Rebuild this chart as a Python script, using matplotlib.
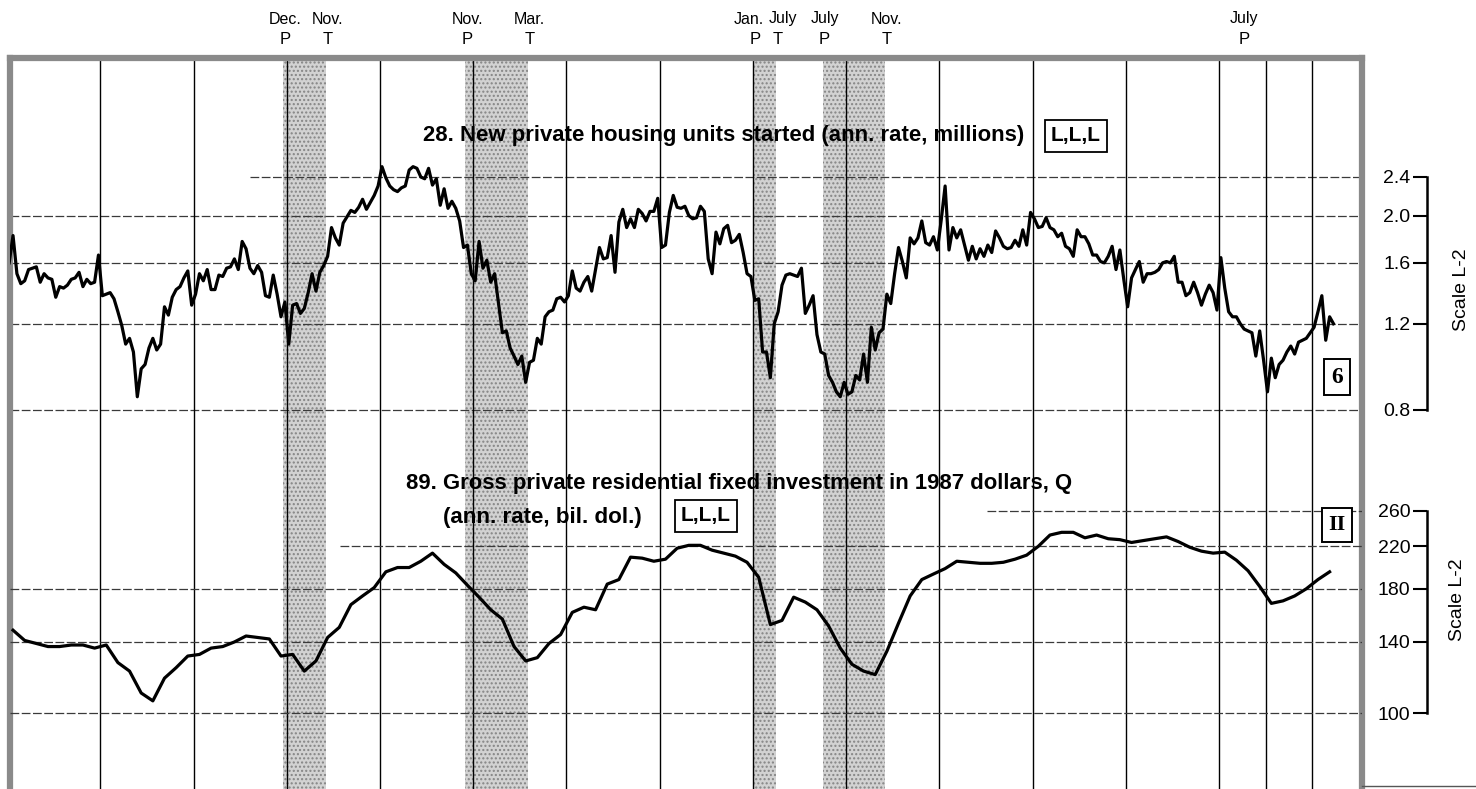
import numpy as np
import matplotlib.pyplot as plt
from matplotlib.lines import Line2D
from matplotlib.ticker import NullLocator
import matplotlib.transforms as mtransforms

W, H = 1476, 789
NARROW = ['Liberation Sans Narrow', 'Liberation Sans', 'DejaVu Sans']
SERIF = ['Liberation Serif', 'DejaVu Serif']
plt.rcParams['font.family'] = NARROW

# 28. housing starts, monthly, ann. rate, millions (Jan 1964 - Jun 1992)
starts_first_year = 1964
housing_starts = [
    1.60, 1.82, 1.52, 1.45, 1.47, 1.55, 1.56, 1.57, 1.46, 1.52, 1.49, 1.48,  # 1964
    1.36, 1.43, 1.42, 1.44, 1.48, 1.49, 1.53, 1.43, 1.48, 1.45, 1.46, 1.66,  # 1965
    1.37, 1.38, 1.39, 1.35, 1.27, 1.19, 1.09, 1.12, 1.05, 0.85, 0.97, 0.99,  # 1966
    1.07, 1.12, 1.06, 1.09, 1.30, 1.25, 1.36, 1.41, 1.43, 1.49, 1.54, 1.31,  # 1967
    1.38, 1.52, 1.47, 1.55, 1.41, 1.41, 1.51, 1.50, 1.56, 1.57, 1.63, 1.55,  # 1968
    1.77, 1.71, 1.56, 1.52, 1.58, 1.53, 1.37, 1.36, 1.51, 1.38, 1.24, 1.33,  # 1969
    1.09, 1.31, 1.32, 1.26, 1.29, 1.39, 1.52, 1.40, 1.53, 1.58, 1.65, 1.89,  # 1970
    1.80, 1.74, 1.93, 1.99, 2.05, 2.03, 2.08, 2.16, 2.06, 2.13, 2.20, 2.30,  # 1971
    2.52, 2.39, 2.30, 2.26, 2.24, 2.28, 2.30, 2.48, 2.52, 2.50, 2.40, 2.38,  # 1972
    2.50, 2.31, 2.38, 2.10, 2.27, 2.07, 2.14, 2.07, 1.95, 1.72, 1.74, 1.52,  # 1973
    1.47, 1.77, 1.56, 1.62, 1.46, 1.52, 1.32, 1.15, 1.16, 1.07, 1.03, 0.99,  # 1974
    1.03, 0.91, 1.00, 1.01, 1.12, 1.09, 1.24, 1.27, 1.28, 1.35, 1.36, 1.33,  # 1975
    1.37, 1.54, 1.42, 1.40, 1.46, 1.50, 1.40, 1.55, 1.72, 1.63, 1.64, 1.82,  # 1976
    1.53, 1.94, 2.06, 1.89, 1.97, 1.89, 2.06, 2.02, 1.95, 2.04, 2.04, 2.17,  # 1977
    1.72, 1.74, 2.03, 2.20, 2.08, 2.07, 2.09, 2.00, 1.97, 1.98, 2.09, 2.04,  # 1978
    1.63, 1.52, 1.85, 1.75, 1.88, 1.91, 1.76, 1.78, 1.83, 1.68, 1.52, 1.50,  # 1979
    1.34, 1.35, 1.05, 1.05, 0.93, 1.20, 1.27, 1.44, 1.51, 1.52, 1.51, 1.50,  # 1980
    1.56, 1.26, 1.31, 1.37, 1.14, 1.05, 1.04, 0.94, 0.91, 0.87, 0.85, 0.91,  # 1981
    0.86, 0.87, 0.94, 0.92, 1.04, 0.91, 1.18, 1.06, 1.15, 1.17, 1.38, 1.32,  # 1982
    1.52, 1.72, 1.61, 1.49, 1.80, 1.75, 1.80, 1.95, 1.76, 1.74, 1.81, 1.70,  # 1983
    1.96, 2.30, 1.70, 1.89, 1.80, 1.87, 1.74, 1.62, 1.73, 1.63, 1.71, 1.65,  # 1984
    1.74, 1.68, 1.86, 1.80, 1.73, 1.71, 1.72, 1.78, 1.73, 1.87, 1.74, 2.03,  # 1985
    1.97, 1.89, 1.90, 1.98, 1.89, 1.87, 1.81, 1.84, 1.73, 1.71, 1.65, 1.87,  # 1986
    1.81, 1.81, 1.75, 1.66, 1.66, 1.61, 1.60, 1.65, 1.73, 1.55, 1.70, 1.48,  # 1987
    1.30, 1.49, 1.55, 1.61, 1.46, 1.52, 1.52, 1.53, 1.55, 1.60, 1.61, 1.60,  # 1988
    1.65, 1.46, 1.46, 1.37, 1.39, 1.46, 1.39, 1.31, 1.38, 1.44, 1.39, 1.28,  # 1989
    1.64, 1.42, 1.27, 1.24, 1.24, 1.20, 1.17, 1.16, 1.15, 1.03, 1.16, 1.01,  # 1990
    0.87, 1.02, 0.93, 0.99, 1.01, 1.05, 1.08, 1.04, 1.10, 1.11, 1.12, 1.15,  # 1991
    1.18, 1.27, 1.37, 1.11, 1.24, 1.20,                                      # 1992
]

# 89. residential fixed investment, quarterly, bil. 1987 dol. (1964Q1 - 1992Q2)
invest_first_year = 1964
res_investment = [
    148, 141, 139, 137,  137, 138, 138, 136,  138, 127, 122, 110,  # 64-66
    106, 118, 124, 131,  132, 136, 137, 140,  144, 143, 142, 131,  # 67-69
    132, 122, 128, 143,  150, 167, 174, 181,  195, 199, 199, 205,  # 70-72
    213, 202, 194, 183,  173, 163, 156, 137,  128, 130, 139, 145,  # 73-75
    161, 165, 163, 184,  188, 209, 208, 205,  207, 218, 221, 221,  # 76-78
    216, 213, 210, 204,  190, 152, 155, 173,  169, 163, 151, 136,  # 79-81
    126, 122, 120, 134,  153, 174, 188, 193,  198, 205, 204, 203,  # 82-84
    203, 204, 207, 211,  220, 232, 235, 235,  229, 232, 228, 227,  # 85-87
    224, 226, 228, 230,  225, 219, 215, 213,  214, 206, 196, 182,  # 88-90
    168, 170, 174, 180,  188, 195,                                 # 91-92
]

# business cycle turning points
turn_month = ['Dec.', 'Nov.', 'Nov.', 'Mar.', 'Jan.', 'July', 'July', 'Nov.', 'July']
turn_kind = ['P', 'T', 'P', 'T', 'P', 'T', 'P', 'T', 'P']
turn_date = [1969.96, 1970.875, 1973.875, 1975.21, 1980.04, 1980.54, 1981.54, 1982.875, 1990.54]
recessions = [(1969.92, 1970.83), (1973.83, 1975.17), (1980.0, 1980.5), (1981.5, 1982.83)]

year_lines = [1966, 1968, 1970, 1972, 1974, 1976, 1978, 1980, 1982, 1984, 1986, 1988, 1990, 1991, 1992]
top_ticks = [0.8, 1.2, 1.6, 2.0, 2.4]
top_labels = ['0.8', '1.2', '1.6', '2.0', '2.4']
bot_ticks = [100, 140, 180, 220, 260]
bot_labels = ['100', '140', '180', '220', '260']


def fx(px):
    return px / W


def fy(py):
    return 1 - py / H


fig = plt.figure(figsize=(W / 100, H / 100), dpi=100)
fig.patch.set_facecolor('white')

x0, x1, ytop = 10, 1362, 58
rect = [fx(x0), 0, fx(x1) - fx(x0), fy(ytop)]
xlim = (1964.06, 1993.07)
top_lim = (0.1333, 4.21)
bot_lim = (69.9, 2209)

ax = fig.add_axes(rect)
ax.set_xlim(xlim)
ax.set_yscale('log')
ax.set_ylim(top_lim)
ax.tick_params(which='both', left=False, labelleft=False, bottom=False, labelbottom=False)
for s in ['left', 'top', 'right']:
    ax.spines[s].set_color('#8a8a8a')
    ax.spines[s].set_linewidth(4.5)
ax.spines['bottom'].set_visible(False)

ax2 = fig.add_axes(rect, sharex=ax)
ax2.patch.set_visible(False)
ax2.set_yscale('log')
ax2.set_ylim(bot_lim)
ax2.tick_params(which='both', left=False, labelleft=False, bottom=False, labelbottom=False)
for s in ax2.spines.values():
    s.set_visible(False)

# recession shading
for a, b in recessions:
    ax.axvspan(a, b, facecolor='#d2d2d2', edgecolor='#858585', hatch='....', lw=0, zorder=0.5)

# grid
for yr in year_lines:
    ax.axvline(yr, color='black', lw=1.0, zorder=1.5)
grid_kw = dict(color='#3a3a3a', lw=0.9, ls=(0, (7, 2)), zorder=1.2)
for v in top_ticks:
    ax.axhline(v, xmin=0.1775 if v == 2.4 else 0, **grid_kw)
for v in bot_ticks:
    start = {260: 0.7226, 220: 0.244}.get(v, 0)
    ax2.axhline(v, xmin=start, **grid_kw)

# series
t_month = starts_first_year + (np.arange(len(housing_starts)) + 0.5) / 12
t_quarter = invest_first_year + (np.arange(len(res_investment)) + 0.5) / 4
ax.plot(t_month, housing_starts, color='black', lw=2.3, zorder=3)
ax2.plot(t_quarter, res_investment, color='black', lw=2.3, zorder=3)

# turning point labels above frame
trans = mtransforms.blended_transform_factory(ax.transData, fig.transFigure)
month_dx = [0, 0, 0, 0, -6, 5, 0, 0, 0]
for d, m, k, dx in zip(turn_date, turn_month, turn_kind, month_dx):
    off = mtransforms.offset_copy(trans, fig=fig, x=dx, y=0, units='dots')
    ax.text(d, fy(19), m, transform=off, ha='center', va='center', fontsize=11.5)
    ax.text(d, fy(40), k, transform=trans, ha='center', va='center', fontsize=12)

# right-hand scales
def scale_axis(lim, ticks, labels):
    sa = fig.add_axes([fx(1427), 0, 0.0005, fy(ytop)])
    sa.patch.set_visible(False)
    sa.set_yscale('log')
    sa.set_ylim(lim)
    sa.set_xticks([])
    for s in ['top', 'right', 'bottom']:
        sa.spines[s].set_visible(False)
    sa.spines['left'].set_bounds(ticks[0], ticks[-1])
    sa.spines['left'].set_linewidth(1.8)
    sa.set_yticks(ticks)
    sa.set_yticklabels(labels)
    sa.yaxis.set_minor_locator(NullLocator())
    sa.tick_params(axis='y', length=10, width=1.5, pad=2, labelsize=14)
    return sa

scale_axis(top_lim, top_ticks, top_labels)
scale_axis(bot_lim, bot_ticks, bot_labels)
fig.text(fx(1461), fy(290), 'Scale L-2', rotation=90, ha='center', va='center', fontsize=14)
fig.text(fx(1457), fy(600), 'Scale L-2', rotation=90, ha='center', va='center', fontsize=14)

# series titles, sized to the width they take in the original
renderer = fig.canvas.get_renderer()


def fit_text(x, y, s, width_px, size=17.5, **kw):
    t = fig.text(fx(x), fy(y), s, ha='left', va='center', fontsize=size,
                 fontweight='bold', **kw)
    w = t.get_window_extent(renderer).width
    t.set_fontsize(size * width_px / w)
    return t


fit_text(423, 136, '28. New private housing units started (ann. rate, millions)', 602)
fit_text(406, 484, '89. Gross private residential fixed investment in 1987 dollars, Q', 669)
fit_text(443, 517, '(ann. rate, bil. dol.)', 199)

box_kw = dict(boxstyle='square,pad=0.3', fc='white', ec='black', lw=1.3)
fig.text(fx(1076), fy(136), 'L,L,L', ha='center', va='center', fontsize=15,
         fontweight='bold', bbox=box_kw)
fig.text(fx(706), fy(516), 'L,L,L', ha='center', va='center', fontsize=15,
         fontweight='bold', bbox=box_kw)
num_box = dict(boxstyle='square,pad=0.3', fc='white', ec='black', lw=1.4)
fig.text(fx(1337), fy(377), '6', ha='center', va='center', fontsize=17, fontweight='bold',
         family=SERIF, bbox=num_box)
fig.text(fx(1337), fy(525), 'II', ha='center', va='center', fontsize=16, fontweight='bold',
         family=SERIF, bbox=num_box)

# edge of the next chart at the bottom right
fig.add_artist(Line2D([fx(x1), 1], [fy(786), fy(786)], color='#555555', lw=1.0))

fig.savefig('out.png', dpi=100, facecolor='white')
